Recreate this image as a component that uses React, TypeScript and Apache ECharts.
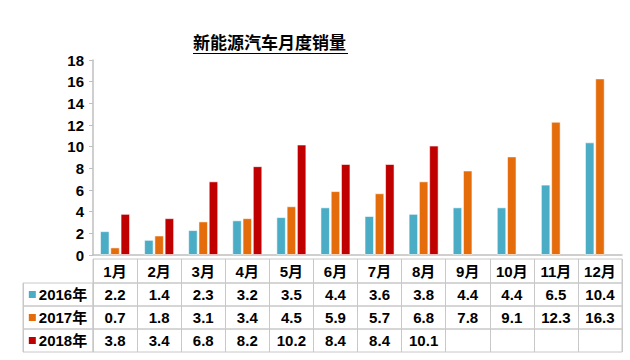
import React, { useEffect, useRef } from "react";
import * as echarts from "echarts";

const months = ["1月", "2月", "3月", "4月", "5月", "6月", "7月", "8月", "9月", "10月", "11月", "12月"];
const seriesNames = ["2016年", "2017年", "2018年"];
const sales2016 = [2.2, 1.4, 2.3, 3.2, 3.5, 4.4, 3.6, 3.8, 4.4, 4.4, 6.5, 10.4];
const sales2017 = [0.7, 1.8, 3.1, 3.4, 4.5, 5.9, 5.7, 6.8, 7.8, 9.1, 12.3, 16.3];
const sales2018: (number | null)[] = [3.8, 3.4, 6.8, 8.2, 10.2, 8.4, 8.4, 10.1, null, null, null, null];
const colors = ["#4BACC6", "#E46C0A", "#C00000"];
const titleText = "新能源汽车月度销量";

const FONT = "'Liberation Sans', Arial, 'Noto Sans CJK SC', sans-serif";

export default function App() {
  const ref = useRef<HTMLDivElement>(null);
  useEffect(() => {
    document.body.style.margin = "0";
    const chart = echarts.init(ref.current!, null, { renderer: "svg" });
    const allSeries = [sales2016, sales2017, sales2018];
    const border = "#C8C8C8";
    const rowTops = [259, 283, 306, 329];
    const rowH = [24, 23, 23, 23];
    const plotLeft = 93;
    const plotRight = 8;

    const grids: any[] = [
      { left: plotLeft, right: plotRight, top: 60, bottom: 105 },
    ];
    const xAxes: any[] = [
      {
        type: "category",
        gridIndex: 0,
        data: months,
        axisLabel: { show: false },
        axisTick: { show: false },
        axisLine: { show: true, lineStyle: { color: "#BFBFBF", width: 1.5 } },
      },
    ];
    const yAxes: any[] = [
      {
        type: "value",
        gridIndex: 0,
        min: 0,
        max: 18,
        interval: 2,
        axisLine: { show: true, lineStyle: { color: "#BFBFBF", width: 1.5 } },
        axisTick: { show: true, length: 4, lineStyle: { color: "#BFBFBF" } },
        splitLine: { show: false },
        axisLabel: { color: "#000", fontWeight: "bold", fontSize: 15, fontFamily: FONT, margin: 9 },
      },
    ];

    const rowLabels: string[][] = [
      months,
      sales2016.map((v) => String(v)),
      sales2017.map((v) => String(v)),
      sales2018.map((v) => (v == null ? "" : String(v))),
    ];

    const cellAxis = (gridIndex: number, data: string[], h: number, rich?: any) => ({
      type: "category",
      gridIndex,
      data,
      position: "bottom",
      axisLine: { show: false },
      axisTick: { show: false },
      splitLine: { show: true, interval: 0, lineStyle: { color: border, width: 1 } },
      axisLabel: {
        inside: true,
        interval: 0,
        margin: h / 2,
        verticalAlign: "middle",
        color: "#000",
        fontWeight: "bold",
        fontSize: 15,
        fontFamily: FONT,
        rich,
      },
    });

    rowLabels.forEach((labels, i) => {
      const gi = grids.length;
      grids.push({
        left: plotLeft,
        right: plotRight,
        top: rowTops[i],
        height: rowH[i],
        show: true,
        borderColor: border,
        borderWidth: 1,
        backgroundColor: "transparent",
      });
      xAxes.push(cellAxis(gi, labels, rowH[i]));
      yAxes.push({ type: "value", gridIndex: gi, show: false });
    });

    seriesNames.forEach((name, i) => {
      const gi = grids.length;
      grids.push({
        left: 23,
        width: plotLeft - 23,
        top: rowTops[i + 1],
        height: rowH[i + 1],
        show: true,
        borderColor: border,
        borderWidth: 1,
        backgroundColor: "transparent",
      });
      const rich = {
        s: { width: 7, height: 7, backgroundColor: colors[i], fontSize: 7 },
        t: { color: "#000", fontWeight: "bold", fontSize: 15, fontFamily: FONT, padding: [0, 0, 0, 3] },
      };
      xAxes.push(cellAxis(gi, ["{s| }{t|" + name + "}"], rowH[i + 1], rich));
      yAxes.push({ type: "value", gridIndex: gi, show: false });
    });

    chart.setOption({
      animation: false,
      backgroundColor: "#fff",
      textStyle: { fontFamily: FONT },
      grid: grids,
      xAxis: xAxes,
      yAxis: yAxes,
      graphic: [
        {
          type: "text",
          left: 193,
          top: 35,
          style: { text: titleText, font: "bold 17px " + FONT, fill: "#000" },
        },
        {
          type: "line",
          shape: { x1: 193, y1: 53.5, x2: 348, y2: 53.5 },
          style: { stroke: "#000", lineWidth: 1 },
        },
      ],
      series: allSeries.map((data, i) => ({
        type: "bar",
        name: seriesNames[i],
        xAxisIndex: 0,
        yAxisIndex: 0,
        data,
        barWidth: 9.5,
        barGap: "8%",
        itemStyle: { color: colors[i], borderColor: "rgba(255,255,255,0.55)", borderWidth: 1 },
      })),
    });
    return () => chart.dispose();
  }, []);
  return <div ref={ref} style={{ width: 630, height: 360 }} />;
}
